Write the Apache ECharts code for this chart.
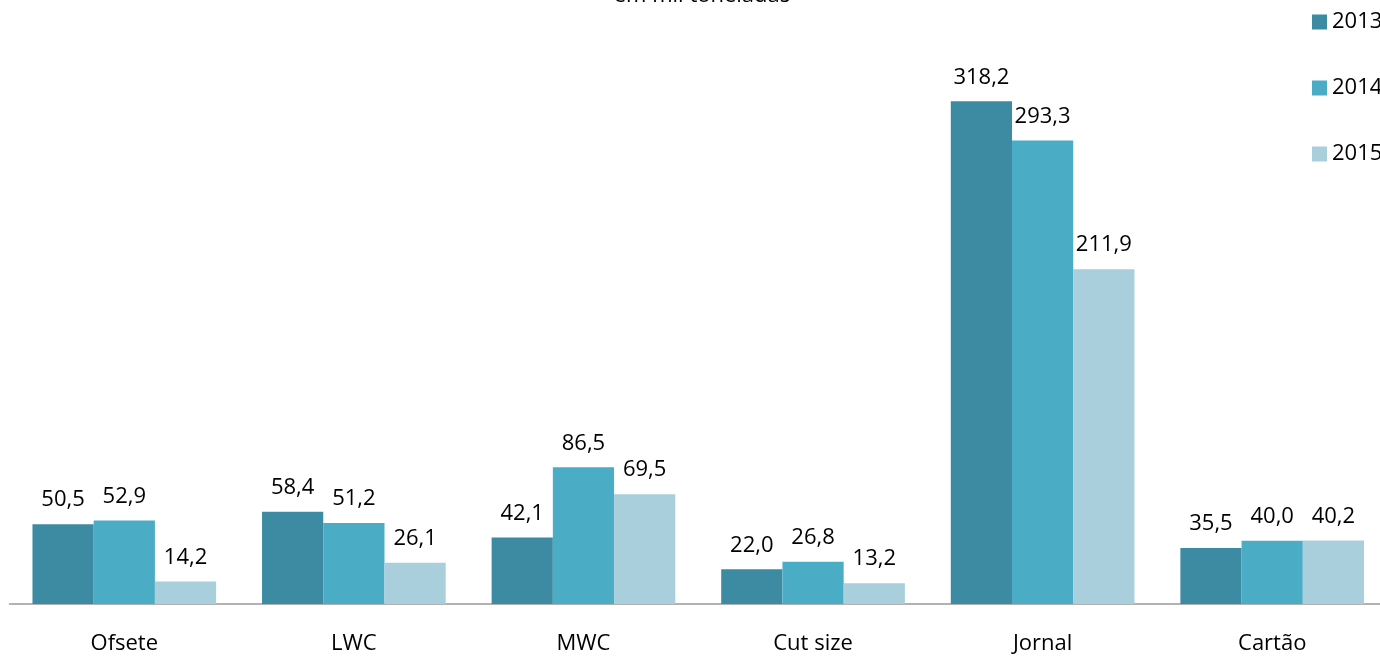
<!DOCTYPE html>
<html><head><meta charset="utf-8">
<script src="https://cdn.jsdelivr.net/npm/echarts@6/dist/echarts.min.js"></script>
<style>html,body{margin:0;padding:0;background:#fff;overflow:hidden}#c{width:1387px;height:657px}</style>
</head><body><div id="c"></div>
<script>
const categories = ['Ofsete','LWC','MWC','Cut size','Jornal','Cartão'];
const years = ['2013','2014','2015'];
const v2013 = [50.5, 58.4, 42.1, 22.0, 318.2, 35.5];
const v2014 = [52.9, 51.2, 86.5, 26.8, 293.3, 40.0];
const v2015 = [14.2, 26.1, 69.5, 13.2, 211.9, 40.2];
const colors = ['#3C8BA2','#4BACC6','#A9CFDD'];
const font = '"Open Sans", sans-serif';
const chart = echarts.init(document.getElementById('c'));
const fmt = p => p.value.toFixed(1).replace('.', ',');
const mk = (name, data, i) => ({
  name, type: 'bar', data, barGap: '0%', barCategoryGap: '20%',
  itemStyle: {color: colors[i]},
  label: {show: true, position: 'top', distance: 13, formatter: fmt, color: '#000', fontSize: 22, fontFamily: font}
});
chart.setOption({
  animation: false,
  title: {text: 'em mil toneladas', left: 697, textAlign: 'center', top: -20,
    textStyle: {fontSize: 22, fontWeight: 'normal', color: '#000', fontFamily: font}},
  legend: {orient: 'vertical', left: 1307, top: 6, itemWidth: 15, itemHeight: 15, itemGap: 44,
    icon: 'rect', textStyle: {fontSize: 22, color: '#000', fontFamily: font}, data: years},
  grid: {left: 9.5, right: 0, top: 51, bottom: 53, containLabel: false},
  xAxis: {type: 'category', data: categories,
    axisLine: {lineStyle: {color: '#999', width: 1.5}}, axisTick: {show: false},
    axisLabel: {color: '#000', fontSize: 22, fontFamily: font, margin: 29}},
  yAxis: {type: 'value', min: 0, max: 350, show: false, splitLine: {show: false}},
  series: [mk(years[0], v2013, 0), mk(years[1], v2014, 1), mk(years[2], v2015, 2)]
});
</script></body></html>
